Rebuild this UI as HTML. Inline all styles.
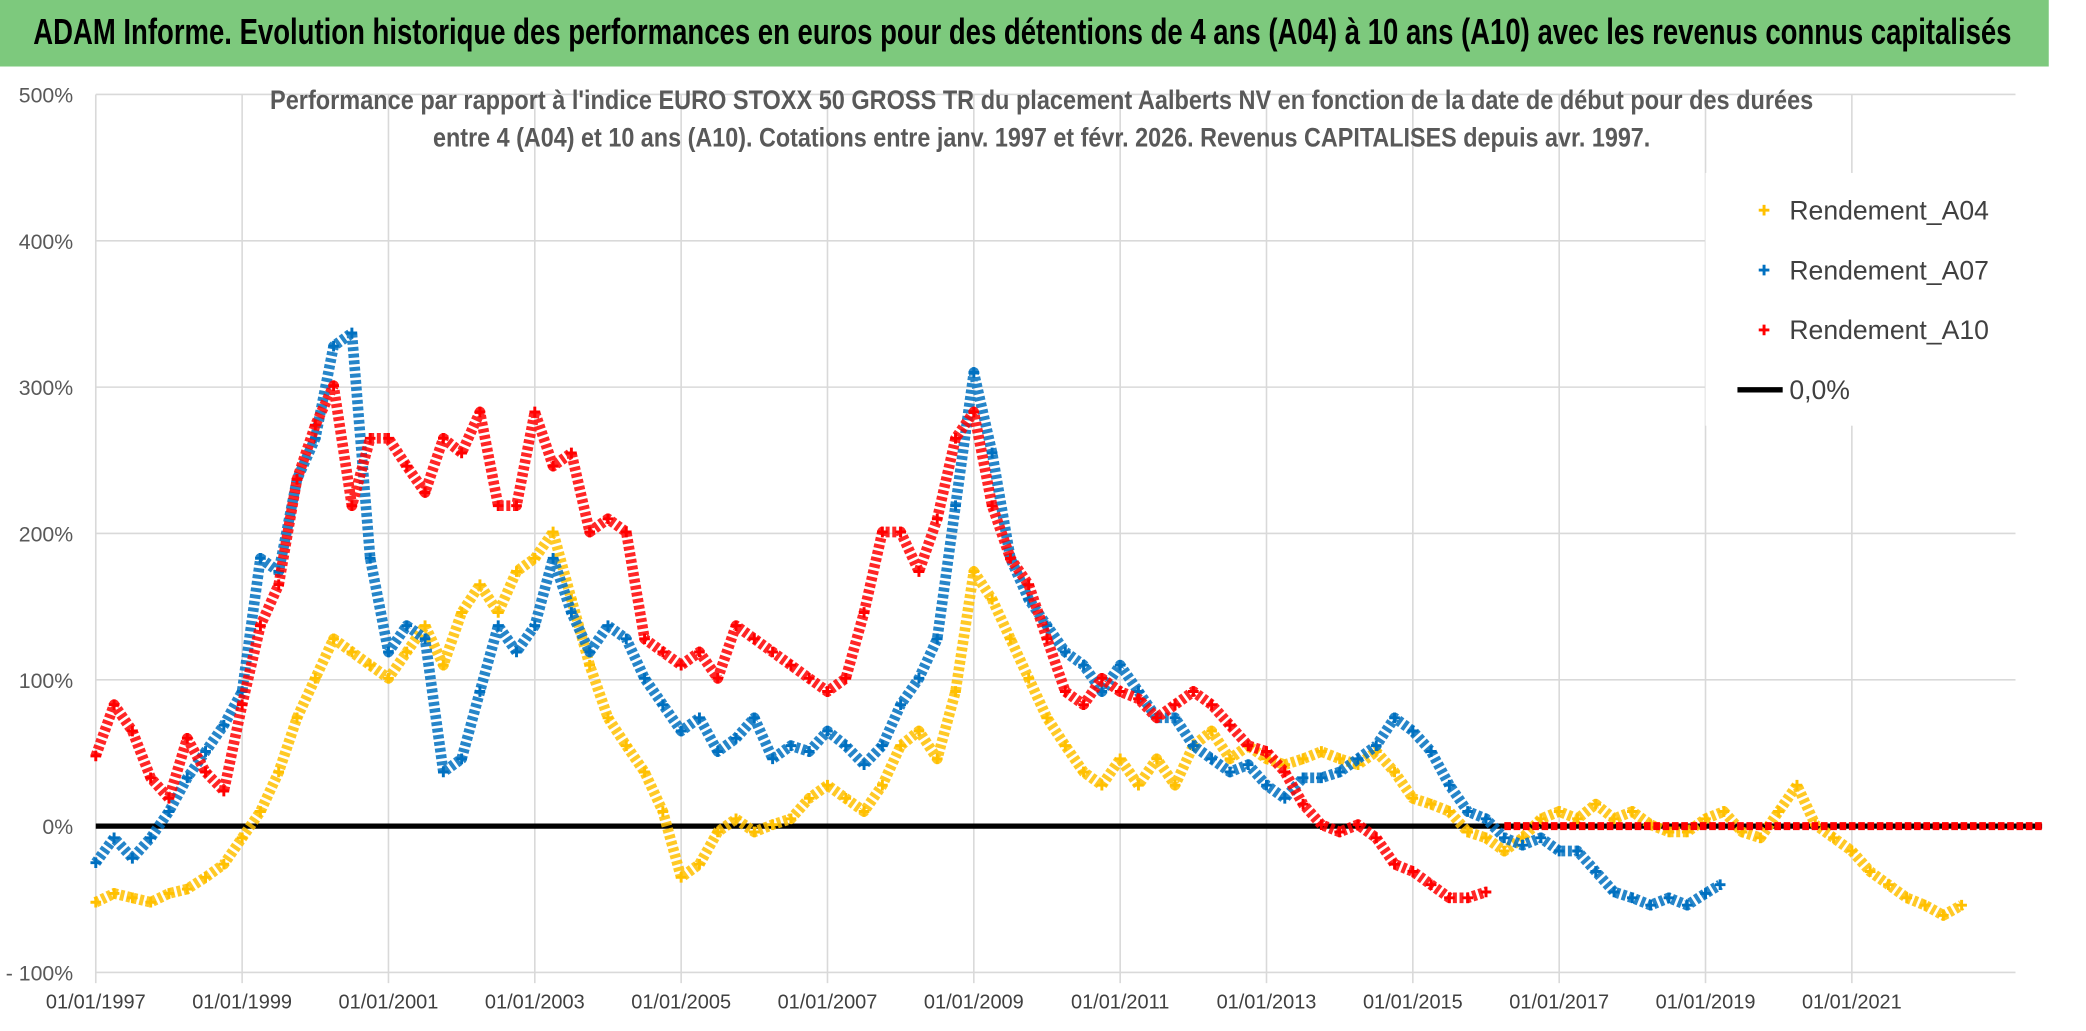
<!DOCTYPE html>
<html><head><meta charset="utf-8"><style>
body{margin:0;background:#fff;}
svg{display:block;font-family:"Liberation Sans",sans-serif;}
</style></head><body>
<svg id="chart" width="2086" height="1031" viewBox="0 0 1568 775" preserveAspectRatio="none">
<rect x="0" y="0" width="1568" height="775" fill="#fff"/>
<rect x="0" y="0" width="1540" height="50" fill="#7DC97D"/>
<text x="25" y="33" font-size="27" font-weight="bold" fill="#000" textLength="1487" lengthAdjust="spacingAndGlyphs">ADAM Informe. Evolution historique des performances en euros pour des détentions de 4 ans (A04) à 10 ans (A10) avec les revenus connus capitalisés</text>
<g id="grid"></g>
<g id="axes"></g>
<text x="783" y="82" font-size="20" font-weight="bold" fill="#595959" text-anchor="middle" textLength="1160" lengthAdjust="spacingAndGlyphs">Performance par rapport à l'indice EURO STOXX 50 GROSS TR  du placement Aalberts NV en fonction de la date de début pour des durées</text>
<text x="783" y="110" font-size="20" font-weight="bold" fill="#595959" text-anchor="middle" textLength="915" lengthAdjust="spacingAndGlyphs">entre 4 (A04) et 10 ans (A10). Cotations entre janv. 1997 et févr. 2026. Revenus CAPITALISES depuis avr. 1997.</text>
<g id="series"></g>
<g id="legend">
<rect x="1282" y="130" width="258" height="190" fill="#fff"/>
</g>
</svg>
<script>
const yearsA04=[1997,1997.25,1997.5,1997.75,1998,1998.25,1998.5,1998.75,1999,1999.25,1999.5,1999.75,2000,2000.25,2000.5,2000.75,2001,2001.25,2001.5,2001.75,2002,2002.25,2002.5,2002.75,2003,2003.25,2003.5,2003.75,2004,2004.25,2004.5,2004.75,2005,2005.25,2005.5,2005.75,2006,2006.25,2006.5,2006.75,2007,2007.25,2007.5,2007.75,2008,2008.25,2008.5,2008.75,2009,2009.25,2009.5,2009.75,2010,2010.25,2010.5,2010.75,2011,2011.25,2011.5,2011.75,2012,2012.25,2012.5,2012.75,2013,2013.25,2013.5,2013.75,2014,2014.25,2014.5,2014.75,2015,2015.25,2015.5,2015.75,2016,2016.25,2016.5,2016.75,2017,2017.25,2017.5,2017.75,2018,2018.25,2018.5,2018.75,2019,2019.25,2019.5,2019.75,2020,2020.25,2020.5,2020.75,2021,2021.25,2021.5,2021.75,2022,2022.25,2022.5];
const valuesA04=[-52,-46,-49,-52,-46,-43,-35,-26,-8,10,37,74,101,128,119,110,101,119,137,110,146,165,146,174,183,201,155,110,74,55,37,10,-35,-26,-4,5,-4,1,5,19,28,19,10,28,55,65,46,92,174,155,128,101,74,55,37,28,46,28,46,28,55,65,46,55,46,42,46,51,46,42,51,37,19,15,10,-4,-8,-17,-8,5,10,5,15,5,10,1,-4,-4,5,10,-4,-8,10,28,1,-8,-17,-31,-40,-49,-54,-61,-54];
const yearsA07=[1997,1997.25,1997.5,1997.75,1998,1998.25,1998.5,1998.75,1999,1999.25,1999.5,1999.75,2000,2000.25,2000.5,2000.75,2001,2001.25,2001.5,2001.75,2002,2002.25,2002.5,2002.75,2003,2003.25,2003.5,2003.75,2004,2004.25,2004.5,2004.75,2005,2005.25,2005.5,2005.75,2006,2006.25,2006.5,2006.75,2007,2007.25,2007.5,2007.75,2008,2008.25,2008.5,2008.75,2009,2009.25,2009.5,2009.75,2010,2010.25,2010.5,2010.75,2011,2011.25,2011.5,2011.75,2012,2012.25,2012.5,2012.75,2013,2013.25,2013.5,2013.75,2014,2014.25,2014.5,2014.75,2015,2015.25,2015.5,2015.75,2016,2016.25,2016.5,2016.75,2017,2017.25,2017.5,2017.75,2018,2018.25,2018.5,2018.75,2019,2019.2];
const valuesA07=[-25,-8,-22,-8,10,33,51,69,92,183,174,237,265,328,337,183,119,137,128,37,46,92,137,119,137,183,146,119,137,128,101,83,65,74,51,60,74,46,55,51,65,55,42,55,83,101,128,219,310,255,183,155,137,119,110,92,110,92,74,74,55,46,37,42,28,19,33,33,37,46,55,74,65,51,28,10,5,-8,-13,-8,-17,-17,-31,-45,-49,-54,-49,-54,-46,-40];
const yearsA10=[1997,1997.25,1997.5,1997.75,1998,1998.25,1998.5,1998.75,1999,1999.25,1999.5,1999.75,2000,2000.25,2000.5,2000.75,2001,2001.25,2001.5,2001.75,2002,2002.25,2002.5,2002.75,2003,2003.25,2003.5,2003.75,2004,2004.25,2004.5,2004.75,2005,2005.25,2005.5,2005.75,2006,2006.25,2006.5,2006.75,2007,2007.25,2007.5,2007.75,2008,2008.25,2008.5,2008.75,2009,2009.25,2009.5,2009.75,2010,2010.25,2010.5,2010.75,2011,2011.25,2011.5,2011.75,2012,2012.25,2012.5,2012.75,2013,2013.25,2013.5,2013.75,2014,2014.25,2014.5,2014.75,2015,2015.25,2015.5,2015.75,2016];
const valuesA10=[48,83,65,33,19,60,37,24,83,137,165,237,274,301,219,265,265,246,228,265,255,283,219,219,283,246,255,201,210,201,128,119,110,119,101,137,128,119,110,101,92,101,146,201,201,174,210,265,283,219,183,165,128,92,83,101,92,87,74,83,92,83,69,55,51,37,15,1,-4,1,-8,-26,-31,-40,-49,-49,-45];
const zeroStart=2016.25, zeroEnd=2023.6;
const yTicks=[500,400,300,200,100,0,-100];
const yTickLabels=["500%","400%","300%","200%","100%","0%","- 100%"];
const xTicks=[1997,1999,2001,2003,2005,2007,2009,2011,2013,2015,2017,2019,2021];
const xTickLabels=["01/01/1997","01/01/1999","01/01/2001","01/01/2003","01/01/2005","01/01/2007","01/01/2009","01/01/2011","01/01/2013","01/01/2015","01/01/2017","01/01/2019","01/01/2021"];
const legendLabels=["Rendement_A04","Rendement_A07","Rendement_A10","0,0%"];

const NS="http://www.w3.org/2000/svg";
const X=y=>72+(y-1997)*55;
const Y=v=>621-v*1.1;
function mk(tag,attrs,parent){const e=document.createElementNS(NS,tag);for(const k in attrs)e.setAttribute(k,attrs[k]);parent.appendChild(e);return e;}
const grid=document.getElementById('grid'),axes=document.getElementById('axes'),series=document.getElementById('series'),legend=document.getElementById('legend');
yTicks.forEach((t,i)=>{
  const l=mk('line',{x1:72,x2:1515,y1:Y(t),y2:Y(t),stroke:'#d9d9d9','stroke-width':1.2},grid);
  
  
  const tx=mk('text',{x:55,y:Y(t)+6,'font-size':16,fill:'#595959','text-anchor':'end'},axes);
  tx.textContent=yTickLabels[i];
  
  
});
xTicks.forEach((t,i)=>{
  const l=mk('line',{x1:X(t),x2:X(t),y1:Y(500),y2:Y(-100)+8,stroke:'#d9d9d9','stroke-width':1.2},grid);
  
  
  const tx=mk('text',{x:X(t),y:758,'font-size':15,fill:'#404040','text-anchor':'middle'},axes);
  tx.textContent=xTickLabels[i];
  
  
});
const zl=mk('line',{x1:X(1997),x2:X(zeroEnd),y1:Y(0),y2:Y(0),stroke:'#000','stroke-width':4},series);


function plus(g,x,y,c){mk('path',{d:`M${x-4},${y}h8M${x},${y-4}v8`,stroke:c,'stroke-width':2.2},g);}
function drawSeries(xs,vs,color,name){
  const g=mk('g',{},series);
  
  
  mk('polyline',{points:xs.map((x,i)=>X(x)+','+Y(vs[i])).join(' '),fill:'none',stroke:color,'stroke-width':8,'stroke-linejoin':'round','stroke-opacity':0.85,'stroke-dasharray':'3 2'},g);
  xs.forEach((x,i)=>plus(g,X(x),Y(vs[i]),color));
}
drawSeries(yearsA04,valuesA04,'#FFC000','series-a04');
drawSeries(yearsA07,valuesA07,'#0070C0','series-a07');
drawSeries(yearsA10,valuesA10,'#FF0000','series-a10');
const rz=mk('line',{x1:X(zeroStart),x2:X(zeroEnd),y1:Y(0),y2:Y(0),stroke:'#FF0000','stroke-width':6,'stroke-dasharray':'5 2'},series);


const lc=['#FFC000','#0070C0','#FF0000','#000'];
legendLabels.forEach((lab,i)=>{
  const y=158+i*45;
  if(i<3){plus(legend,1326,y,lc[i]);}else{mk('line',{x1:1306,x2:1340,y1:y,y2:y,stroke:'#000','stroke-width':4},legend);}
  const t=mk('text',{x:1345,y:y+7,'font-size':20,fill:'#404040'},legend);
  t.textContent=lab;
  
  
});
</script>
</body></html>
